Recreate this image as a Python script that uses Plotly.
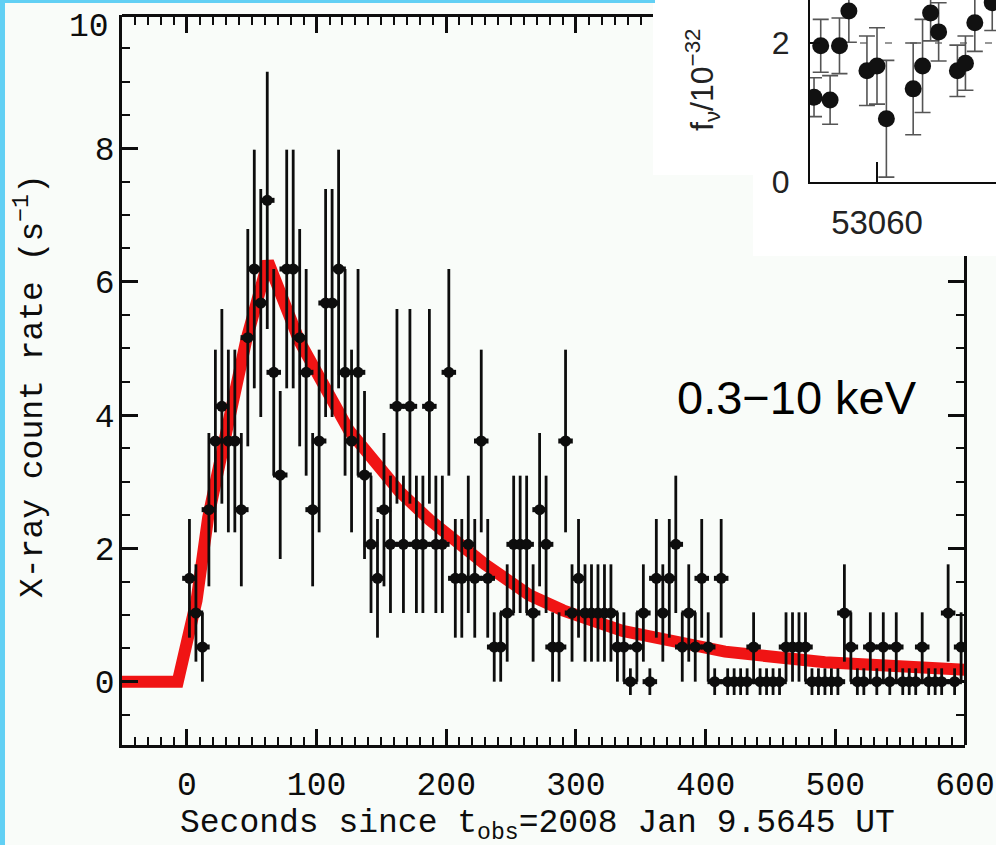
import plotly.graph_objects as go

# ---------------------------------------------------------------------------
# Swift/XRT light curve, 0.3-10 keV, 5 s bins (bin centres in seconds)
time_s = [2, 7, 12, 17, 22, 27, 32, 37, 42, 47,
          52, 57, 62, 67, 72, 77, 82, 87, 92, 97,
          102, 107, 112, 117, 122, 127, 132, 137, 142, 147,
          152, 157, 162, 167, 172, 177, 182, 187, 192, 197,
          202, 207, 212, 217, 222, 227, 232, 237, 242, 247,
          252, 257, 262, 267, 272, 277, 282, 287, 292, 297,
          302, 307, 312, 317, 322, 327, 332, 337, 342, 347,
          352, 357, 362, 367, 372, 377, 382, 387, 392, 397,
          402, 407, 412, 417, 422, 427, 432, 437, 442, 447,
          452, 457, 462, 467, 472, 477, 482, 487, 492, 497,
          502, 507, 512, 517, 522, 527, 532, 537, 542, 547,
          552, 557, 562, 567, 572, 577, 582, 587, 592, 597]

# count rate (s^-1)
rate = [1.55, 1.03, 0.52, 2.58, 3.61, 4.13, 3.61, 3.61, 2.58, 5.16,
        6.19, 5.68, 7.22, 4.64, 3.10, 6.19, 6.19, 5.16, 4.64, 2.58,
        3.61, 5.68, 5.68, 6.19, 4.64, 3.61, 4.64, 3.10, 2.06, 1.55,
        2.58, 2.06, 4.13, 2.06, 4.13, 2.06, 2.06, 4.13, 2.06, 2.06,
        4.64, 1.55, 1.55, 2.06, 1.55, 3.61, 1.55, 0.52, 0.52, 1.03,
        2.06, 2.06, 2.06, 1.03, 2.58, 2.06, 0.52, 0.52, 3.61, 1.03,
        1.55, 1.03, 1.03, 1.03, 1.03, 1.03, 0.52, 0.52, 0.00, 0.52,
        1.03, 0.00, 1.55, 1.03, 1.55, 2.06, 0.52, 1.03, 0.52, 1.55,
        0.52, 0.00, 1.55, 0.00, 0.00, 0.00, 0.00, 0.52, 0.00, 0.00,
        0.00, 0.00, 0.52, 0.52, 0.52, 0.52, 0.00, 0.00, 0.00, 0.00,
        0.00, 1.03, 0.52, 0.00, 0.00, 0.52, 0.00, 0.52, 0.00, 0.52,
        0.00, 0.00, 0.00, 0.52, 0.00, 0.00, 0.00, 1.03, 0.00, 0.52]

# half-length of the 1-sigma bar for each rate level
bar_half = {0.00: 0.20, 0.52: 0.52, 1.03: 0.73, 1.55: 0.89, 2.06: 1.03,
            2.58: 1.15, 3.10: 1.26, 3.61: 1.37, 4.13: 1.46, 4.64: 1.55,
            5.16: 1.63, 5.68: 1.71, 6.19: 1.79, 7.22: 1.93}
rate_err = [bar_half[r] for r in rate]

# fitted rise + decay model
model_t = [-50, -7, 7.5, 16.4, 30.5, 45.9, 62.6, 87, 125, 164, 187, 230,
           264, 290, 336, 364, 379, 405, 415, 492, 507, 596, 600]
model_rate = [0, 0, 1.22, 2.46, 3.75, 5.13, 6.30, 5.10, 3.77, 2.85, 2.43, 1.76,
              1.30, 1.07, 0.76, 0.65, 0.58, 0.47, 0.45, 0.29, 0.28, 0.18, 0.18]

# inset: optical flux density (units of 1e-32) against MJD
inset_mjd = [53055.3, 53055.8, 53056.5, 53057.2, 53057.9, 53059.25, 53060.0, 53060.7,
             53062.7, 53063.4, 53064.0, 53064.6, 53066.0, 53066.6, 53067.3, 53068.6]
inset_flux = [1.22, 1.96, 1.18, 1.96, 2.46, 1.60, 1.67, 0.91,
              1.34, 1.67, 2.43, 2.16, 1.60, 1.71, 2.29, 2.58]
inset_err = [0.28, 0.38, 0.35, 0.40, 0.45, 0.50, 0.55, 0.84,
             0.66, 0.67, 0.40, 0.42, 0.37, 0.39, 0.41, 0.40]
inset_level = 2.0
inset_xtick = [53060]
inset_ytick = [0, 2]

# ---------------------------------------------------------------------------
W, H = 996, 845
ML, MR, MT, MB = 122, 0, 0, 100
PW, PH = W - ML - MR, H - MT - MB


def fx(px):
    """pixel column -> paper x"""
    return (px - ML) / PW


def fy(py):
    """pixel row (from top) -> paper y"""
    return (PH - (py - MT)) / PH


MONO = "Liberation Mono"
SANS = "Liberation Sans"
INK = "#0d0d0d"
BG = "#f9fcf9"

x_range = [-50, 600]
y_range = [-0.95, 10]
main_left, main_right, main_top, main_bottom = 122, 965, 15, 745
sx = (main_right - main_left) / (x_range[1] - x_range[0])
sy = (main_bottom - main_top) / (y_range[1] - y_range[0])

fig = go.Figure()

fig.add_trace(go.Scatter(
    x=model_t, y=model_rate, mode="lines",
    line=dict(color="#f01414", width=12),
    hoverinfo="skip", showlegend=False))

fig.add_trace(go.Scatter(
    x=time_s, y=rate, mode="markers",
    marker=dict(size=11, color=INK),
    error_y=dict(type="data", array=rate_err, visible=True,
                 color=INK, thickness=2.8, width=0),
    error_x=dict(type="constant", value=5.6, visible=True,
                 color=INK, thickness=5, width=0),
    hoverinfo="skip", showlegend=False))

fig.add_trace(go.Scatter(
    x=inset_mjd, y=inset_flux, mode="markers", xaxis="x2", yaxis="y2",
    marker=dict(size=17, color="#111111"),
    error_y=dict(type="data", array=inset_err, visible=True,
                 color="#555555", thickness=1.6, width=8),
    hoverinfo="skip", showlegend=False))

# empty traces that carry the top and right frame segments
fig.add_trace(go.Scatter(x=[None], y=[None], xaxis="x3", yaxis="y",
                         hoverinfo="skip", showlegend=False))
fig.add_trace(go.Scatter(x=[None], y=[None], xaxis="x", yaxis="y4",
                         hoverinfo="skip", showlegend=False))

frame = dict(showline=True, linecolor=INK, linewidth=2.5, mirror=False,
             showgrid=False, zeroline=False, ticks="inside",
             tickcolor=INK, tickwidth=2.5, automargin=False)

x_common = dict(frame, tickmode="linear", tick0=0, dtick=100, ticklen=16,
                minor=dict(tickmode="linear", tick0=0, dtick=10,
                           ticks="inside", ticklen=8,
                           tickwidth=2, tickcolor=INK, showgrid=False))
y_common = dict(frame, tickmode="linear", tick0=0, dtick=2, ticklen=16,
                minor=dict(tickmode="linear", tick0=0, dtick=0.5,
                           ticks="inside", ticklen=8,
                           tickwidth=2, tickcolor=INK, showgrid=False))

top_px = 653      # where the inset patch starts along the top frame
right_px = 256    # where the inset patch ends along the right frame

fig.update_layout(
    width=W, height=H,
    margin=dict(l=ML, r=MR, t=MT, b=MB, pad=0, autoexpand=False),
    paper_bgcolor=BG, plot_bgcolor="rgba(0,0,0,0)",
    showlegend=False,
    xaxis=dict(x_common, domain=[0, fx(main_right)], range=x_range,
               anchor="y",
               tickfont=dict(family=MONO, size=33, color=INK),
               ticklabelstandoff=8),
    yaxis=dict(y_common, domain=[0, fy(main_top)], range=y_range,
               anchor="x", labelalias={"10": " "},
               tickfont=dict(family=MONO, size=33, color=INK),
               ticklabelstandoff=-2),
    xaxis3=dict(x_common, domain=[0, fx(top_px)],
                range=[x_range[0], x_range[0] + (top_px - main_left) / sx],
                anchor="free", position=fy(main_top), side="top",
                showticklabels=False),
    yaxis4=dict(y_common, domain=[0, fy(right_px)],
                range=[y_range[0], y_range[0] + (main_bottom - right_px) / sy],
                anchor="free", position=fx(main_right), side="right",
                showticklabels=False),
    xaxis2=dict(domain=[fx(810), 1], range=[53055, 53055 + 186 / 13.4],
                anchor="y2", showline=True, linecolor=INK, linewidth=2,
                showgrid=False, zeroline=False, ticks="inside",
                tickvals=inset_xtick, ticktext=[str(v) for v in inset_xtick],
                ticklen=20, tickwidth=2, tickcolor=INK, automargin=False,
                tickfont=dict(family=SANS, size=33, color="#222222"),
                ticklabelstandoff=10),
    yaxis2=dict(domain=[fy(182), 1], range=[0, 182 / 69.5],
                anchor="x2", showline=True, linecolor=INK, linewidth=2,
                showgrid=False, zeroline=False, ticks="inside",
                tickvals=inset_ytick, ticklen=10, tickwidth=2, tickcolor=INK,
                automargin=False,
                tickfont=dict(family=SANS, size=32, color="#222222"),
                ticklabelstandoff=12),
)

shapes = [
    # white panel behind the inset
    dict(type="rect", xref="paper", yref="paper", layer="below",
         x0=fx(653), x1=1, y0=fy(175), y1=1,
         fillcolor="white", line=dict(width=0)),
    dict(type="rect", xref="paper", yref="paper", layer="below",
         x0=fx(753), x1=1, y0=fy(256), y1=fy(175) + 0.001,
         fillcolor="white", line=dict(width=0)),
    # dashed reference level in the inset
    dict(type="line", xref="x2 domain", yref="y2", layer="below",
         x0=0, x1=1, y0=inset_level, y1=inset_level,
         line=dict(color="#777777", width=1.5, dash="7px,18px")),
    # light blue page border
    dict(type="rect", xref="paper", yref="paper", layer="above",
         x0=fx(0), x1=fx(5), y0=fy(H), y1=fy(0),
         fillcolor="#62d0f4", line=dict(width=0)),
    dict(type="rect", xref="paper", yref="paper", layer="above",
         x0=fx(0), x1=fx(655), y0=fy(3), y1=fy(0),
         fillcolor="#62d0f4", line=dict(width=0)),
]

annotations = [
    dict(text="X-ray count rate (s<sup>\u22121</sup>)", textangle=-90,
         xref="paper", yref="paper", x=fx(30), y=fy(386),
         xanchor="center", yanchor="middle", showarrow=False,
         font=dict(family=MONO, size=33, color=INK)),
    dict(text="Seconds since t<sub>obs</sub>=2008 Jan 9.5645 UT",
         xref="paper", yref="paper", x=fx(537), y=fy(825),
         xanchor="center", yanchor="middle", showarrow=False,
         font=dict(family=MONO, size=33, color=INK)),
    dict(text="10", xref="paper", yref="y", x=fx(111), y=10, yshift=-13,
         xanchor="right", yanchor="middle", showarrow=False,
         font=dict(family=MONO, size=33, color=INK)),
    dict(text="0.3\u221210 keV", xref="paper", yref="paper",
         x=fx(797), y=fy(398), xanchor="center", yanchor="middle",
         showarrow=False, font=dict(family=SANS, size=47, color="#000000")),
    dict(text="f<sub>\u03bd</sub>/10<sup>\u221232</sup>", textangle=-90,
         xref="paper", yref="paper", x=fx(703), y=fy(80),
         xanchor="center", yanchor="middle", showarrow=False,
         font=dict(family=SANS, size=32, color="#222222")),
]

fig.update_layout(shapes=shapes, annotations=annotations)

fig.write_html("out.html")
